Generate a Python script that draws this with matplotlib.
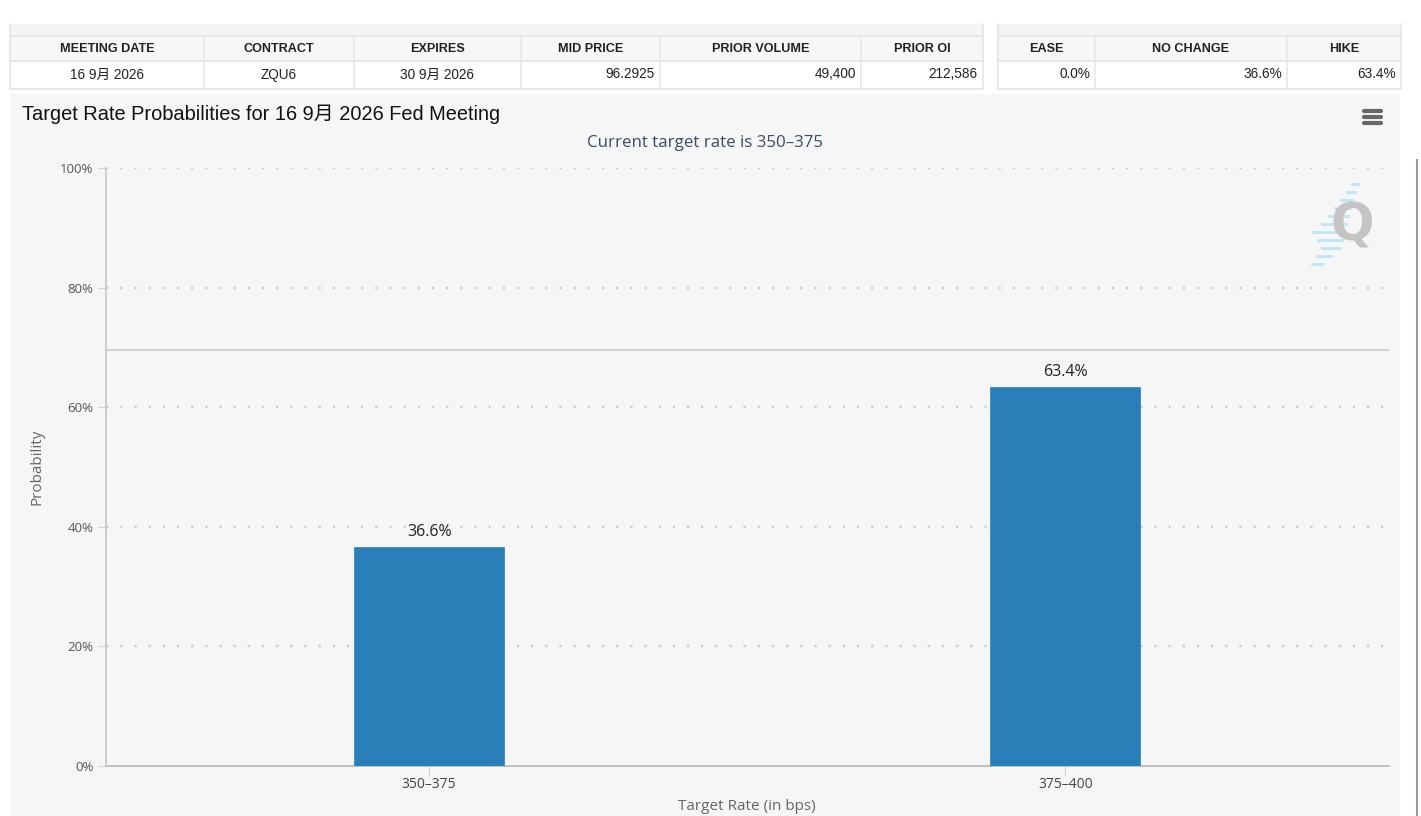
import matplotlib
matplotlib.use("Agg")
import matplotlib.pyplot as plt
from matplotlib.patches import Rectangle
from matplotlib.lines import Line2D

# ---------------- data ----------------
categories = ["350–375", "375–400"]
probabilities = [36.6, 63.4]
bar_labels = ["36.6%", "63.4%"]
yticks = [0, 20, 40, 60, 80, 100]
ytick_labels = ["0%", "20%", "40%", "60%", "80%", "100%"]
ref_line_value = 69.6

left_headers = ["MEETING DATE", "CONTRACT", "EXPIRES", "MID PRICE", "PRIOR VOLUME", "PRIOR OI"]
left_values = ["16 9月 2026", "ZQU6", "30 9月 2026", "96.2925", "49,400", "212,586"]
right_headers = ["EASE", "NO CHANGE", "HIKE"]
right_values = ["0.0%", "36.6%", "63.4%"]

title = "Target Rate Probabilities for 16 9月 2026 Fed Meeting"
subtitle = "Current target rate is 350–375"

W, H = 1421, 816
fig = plt.figure(figsize=(W / 100, H / 100), dpi=100)
fig.patch.set_facecolor("white")

FONT = ["Liberation Sans", "Noto Sans CJK SC", "DejaVu Sans"]
FONT2 = ["Open Sans", "Noto Sans CJK SC", "DejaVu Sans"]


def fx(x):
    return x / W


def fy(y):
    return 1 - y / H


def rect(x0, y0, x1, y1, fc, ec="none", lw=0, z=0):
    fig.patches.append(Rectangle((fx(x0), fy(y1)), fx(x1) - fx(x0), fy(y0) - fy(y1),
                                 transform=fig.transFigure, facecolor=fc, edgecolor=ec,
                                 linewidth=lw, zorder=z))


def hline(x0, x1, y, c, lw=1, z=2, **kw):
    fig.lines.append(Line2D([fx(x0), fx(x1)], [fy(y), fy(y)], transform=fig.transFigure,
                            color=c, linewidth=lw, zorder=z, **kw))


def vline(x, y0, y1, c, lw=1, z=2):
    fig.lines.append(Line2D([fx(x), fx(x)], [fy(y0), fy(y1)], transform=fig.transFigure,
                            color=c, linewidth=lw, zorder=z))


# ---------------- tables ----------------
def draw_table(edges, headers, values, aligns):
    x0, x1 = edges[0], edges[-1]
    rect(x0, 24, x1, 36, "#f4f4f4", z=1)
    rect(x0, 36, x1, 61, "#f7f7f7", z=1)
    rect(x0, 61, x1, 89, "white", z=1)
    for y in (36, 61, 89):
        hline(x0, x1, y, "#e4e4e4", lw=1.2)
    vline(x0, 24, 89, "#e4e4e4", lw=1.2)
    vline(x1, 24, 89, "#e4e4e4", lw=1.2)
    for e in edges[1:-1]:
        vline(e, 36, 89, "#e8e8e8", lw=1.2)
    for i, (h, v) in enumerate(zip(headers, values)):
        a, b = edges[i], edges[i + 1]
        fig.text(fx((a + b) / 2), fy(48.5), h, ha="center", va="center", fontsize=9.1,
                 fontweight="bold", color="#222222", family=FONT, zorder=3)
        if aligns[i] == "center":
            fig.text(fx((a + b) / 2), fy(74.5), v, ha="center", va="center", fontsize=9.8,
                     color="#222222", family=FONT, zorder=3)
        else:
            fig.text(fx(b - 5), fy(74.5), v, ha="right", va="center", fontsize=9.8,
                     color="#222222", family=FONT, zorder=3)


draw_table([10, 204, 354, 521, 660, 861, 983], left_headers, left_values,
           ["center", "center", "center", "right", "right", "right"])
draw_table([998, 1095, 1287, 1401], right_headers, right_values, ["right", "right", "right"])

# ---------------- chart panel ----------------
rect(10, 94, 1400, 816, "#f6f6f6", z=0)
vline(1417, 160, 816, "#9a9a9a", lw=1.5)

fig.text(fx(22), fy(114), title, ha="left", va="center", fontsize=14.4, color="#111111",
         family=FONT, zorder=3)
fig.text(fx(705), fy(143), subtitle, ha="center", va="center", fontsize=12.2, color="#3d4a66",
         family=FONT2, zorder=3)

# hamburger icon
for yy in (111, 117, 123):
    hline(1364, 1381, yy, "#666666", lw=3, z=3, solid_capstyle="round")

# ---------------- axes ----------------
ax = fig.add_axes([fx(106), fy(766), fx(1389) - fx(106), fy(168) - fy(766)])
ax.set_zorder(5)
ax.set_facecolor("none")
ax.set_xlim(-0.508, 1.509)
ax.set_ylim(0, 100)

ax.bar(range(len(categories)), probabilities, width=0.236, color="#2980b9", zorder=3,
       edgecolor="#2980b9", linewidth=0.5)
for i, (p, lab) in enumerate(zip(probabilities, bar_labels)):
    ax.annotate(lab, (i, p), xytext=(0, 5), textcoords="offset points", ha="center",
                va="bottom", fontsize=11.5, color="#222222", family=FONT2, zorder=4)

for t in yticks[1:]:
    ax.axhline(t, color="#cdcdcd", linestyle=(0, (1, 5)), linewidth=1.7, zorder=1)
ax.axhline(ref_line_value, color="#cfcfcf", linewidth=1.3, zorder=2)

for s in ("top", "right"):
    ax.spines[s].set_visible(False)
ax.spines["left"].set_color("#c8c8c8")
ax.spines["left"].set_linewidth(1.3)
ax.spines["bottom"].set_color("#c0c0c0")
ax.spines["bottom"].set_linewidth(1.4)

ax.set_xticks(range(len(categories)))
ax.set_xticklabels(categories, family=FONT2, fontsize=10, color="#444444")
ax.set_yticks(yticks)
ax.set_yticklabels(ytick_labels, family=FONT2, fontsize=9.5, color="#555555")
ax.tick_params(axis="x", length=7, color="#d0d0d0", pad=1)
ax.tick_params(axis="y", length=6, color="#d0d0d0", pad=3)

ax.set_xlabel("Target Rate (in bps)", family=FONT2, fontsize=11, color="#666666")
ax.set_ylabel("Probability", family=FONT2, fontsize=11, color="#666666")
ax.xaxis.set_label_coords((747 - 106) / (1389 - 106), -(806 - 766) / (766 - 168))
ax.yaxis.set_label_coords(-(106 - 37) / (1389 - 106), (766 - 467) / (766 - 168))
ax.xaxis.label.set_va("center")
ax.yaxis.label.set_va("center")

# ---------------- Q logo ----------------
fig.text(fx(1352), fy(226), "Q", ha="center", va="center", fontsize=37, fontweight="bold",
         color="#c4c4c4", family=["DejaVu Sans"], zorder=4)
stripes = [(1352, 1358, 184), (1347, 1355, 192), (1341, 1352, 200), (1335, 1350, 208),
           (1329, 1348, 216), (1322, 1346, 224), (1313, 1344, 232), (1318, 1342, 240),
           (1322, 1340, 248), (1317, 1331, 256), (1312, 1322, 264)]
for a, b, y in stripes:
    hline(a, b, y, "#bfe6f5", lw=2, z=3)

fig.savefig("out.png", dpi=100, facecolor="white")
